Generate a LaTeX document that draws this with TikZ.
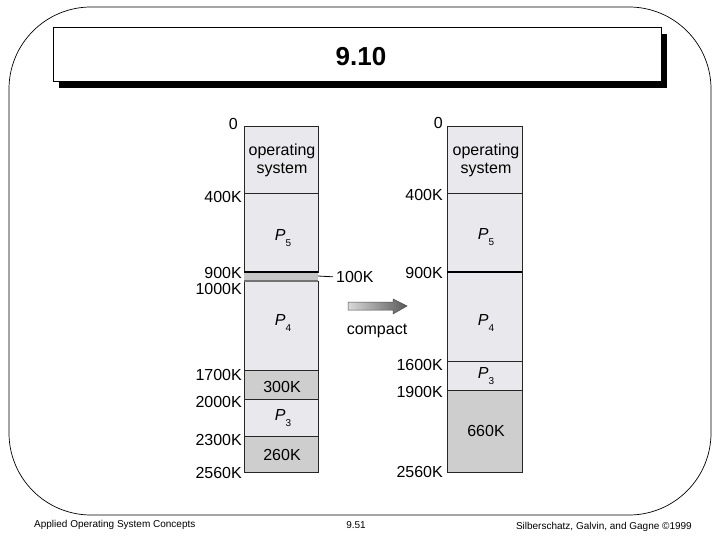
\documentclass[tikz,border=0pt]{standalone}
\usepackage{fontspec}
\setmainfont{Liberation Sans}
\usepackage{xcolor}
\usepackage{tikz}

\definecolor{memlight}{RGB}{233,233,237}
\definecolor{memdark}{RGB}{206,206,206}
\definecolor{holeband}{RGB}{198,198,198}
\newcommand{\proc}[1]{\textit{P}\raisebox{-0.7ex}{\fontsize{10}{10}\selectfont #1}}

\begin{document}
\begin{tikzpicture}[x=1pt, y=-1pt, every node/.style={font=\fontsize{16}{18}\selectfont, inner sep=0pt},
    seg/.style={draw=black!85, line width=0.8pt, fill=memlight},
    hole/.style={seg, fill=memdark},
    addr/.style={anchor=east},
    foot/.style={font=\fontsize{10}{11}\selectfont}]
    \useasboundingbox (0,0) rectangle (720,540);
    % Frame
    \draw[line width=0.7pt, rounded corners=82pt] (9,7) rectangle (711,515);
    % Title
    \fill (59,34) rectangle (667,88);
    \draw[fill=white, line width=0.8pt] (53,27) rectangle (661,81);
    \node[font=\fontsize{26}{28}\selectfont\bfseries] (title) at (361,57) {9.10};
    % Memory before
    \draw[seg] (244,126) rectangle (318,193);
    \draw[seg] (244,193) rectangle (318,272);
    \fill[holeband] (244,272) rectangle (318,281);
    \draw[seg] (244,281) rectangle (318,370);
    \draw[hole] (244,370) rectangle (318,399);
    \draw[seg] (244,399) rectangle (318,436);
    \draw[hole] (244,436) rectangle (318,472);
    \draw[line width=2pt] (244,272) -- (318,272);
    \draw[black!55, line width=1.4pt] (244,281) -- (318,281);
    \node[align=center] (os1) at (282,160) {operating\\system};
    \node (p51) at (283,238) {\proc{5}};
    \node (p41) at (283,323) {\proc{4}};
    \node (free300) at (282,387) {300K};
    \node (p31) at (283,418) {\proc{3}};
    \node (free260) at (282,455) {260K};
    % Addresses before
    \node[addr] (a0l) at (238,124) {0};
    \node[addr] (a400l) at (242,197) {400K};
    \node[addr] (a900l) at (242,272.5) {900K};
    \node[addr] (a1000l) at (242,289) {1000K};
    \node[addr] (a1700l) at (242,375) {1700K};
    \node[addr] (a2000l) at (242,402) {2000K};
    \node[addr] (a2300l) at (242,440) {2300K};
    \node[addr] (a2560l) at (242,473) {2560K};
    % Hole size
    \coordinate (gap) at (318,276);
    \node[anchor=west] (gapsize) at (336,277) {100K};
    \draw[line width=0.8pt, shorten >=3pt] (gap) -- (gapsize.west);
    % Compact arrow
    \shade[left color=gray!30, right color=gray!70!black, draw=gray!60!black, line width=0.5pt]
        (348,302) -- (393,302) -- (393,299) -- (407,306) -- (393,314) -- (393,310) -- (348,310) -- cycle;
    \node (compact) at (377,331) {compact};
    % Memory after
    \draw[seg] (447,126) rectangle (522,193);
    \draw[seg] (447,193) rectangle (522,272);
    \draw[seg] (447,272) rectangle (522,361);
    \draw[seg] (447,361) rectangle (522,390);
    \draw[hole] (447,390) rectangle (522,472);
    \draw[line width=2pt] (447,272) -- (522,272);
    \node[align=center] (os2) at (486,160) {operating\\system};
    \node (p52) at (486,237) {\proc{5}};
    \node (p42) at (486,323) {\proc{4}};
    \node (p32) at (486,376) {\proc{3}};
    \node (free660) at (486,431) {660K};
    % Addresses after
    \node[addr] (a0r) at (443,123) {0};
    \node[addr] (a400r) at (443,195) {400K};
    \node[addr] (a900r) at (443,273) {900K};
    \node[addr] (a1600r) at (443,365) {1600K};
    \node[addr] (a1900r) at (443,392) {1900K};
    \node[addr] (a2560r) at (443,472) {2560K};
    % Footer
    \node[foot, anchor=west] (book) at (34,525) {Applied Operating System Concepts};
    \node[foot] (page) at (356,525) {9.51};
    \node[foot, anchor=east] (authors) at (692,527) {Silberschatz, Galvin, and Gagne \textcopyright 1999};
\end{tikzpicture}
\end{document}
